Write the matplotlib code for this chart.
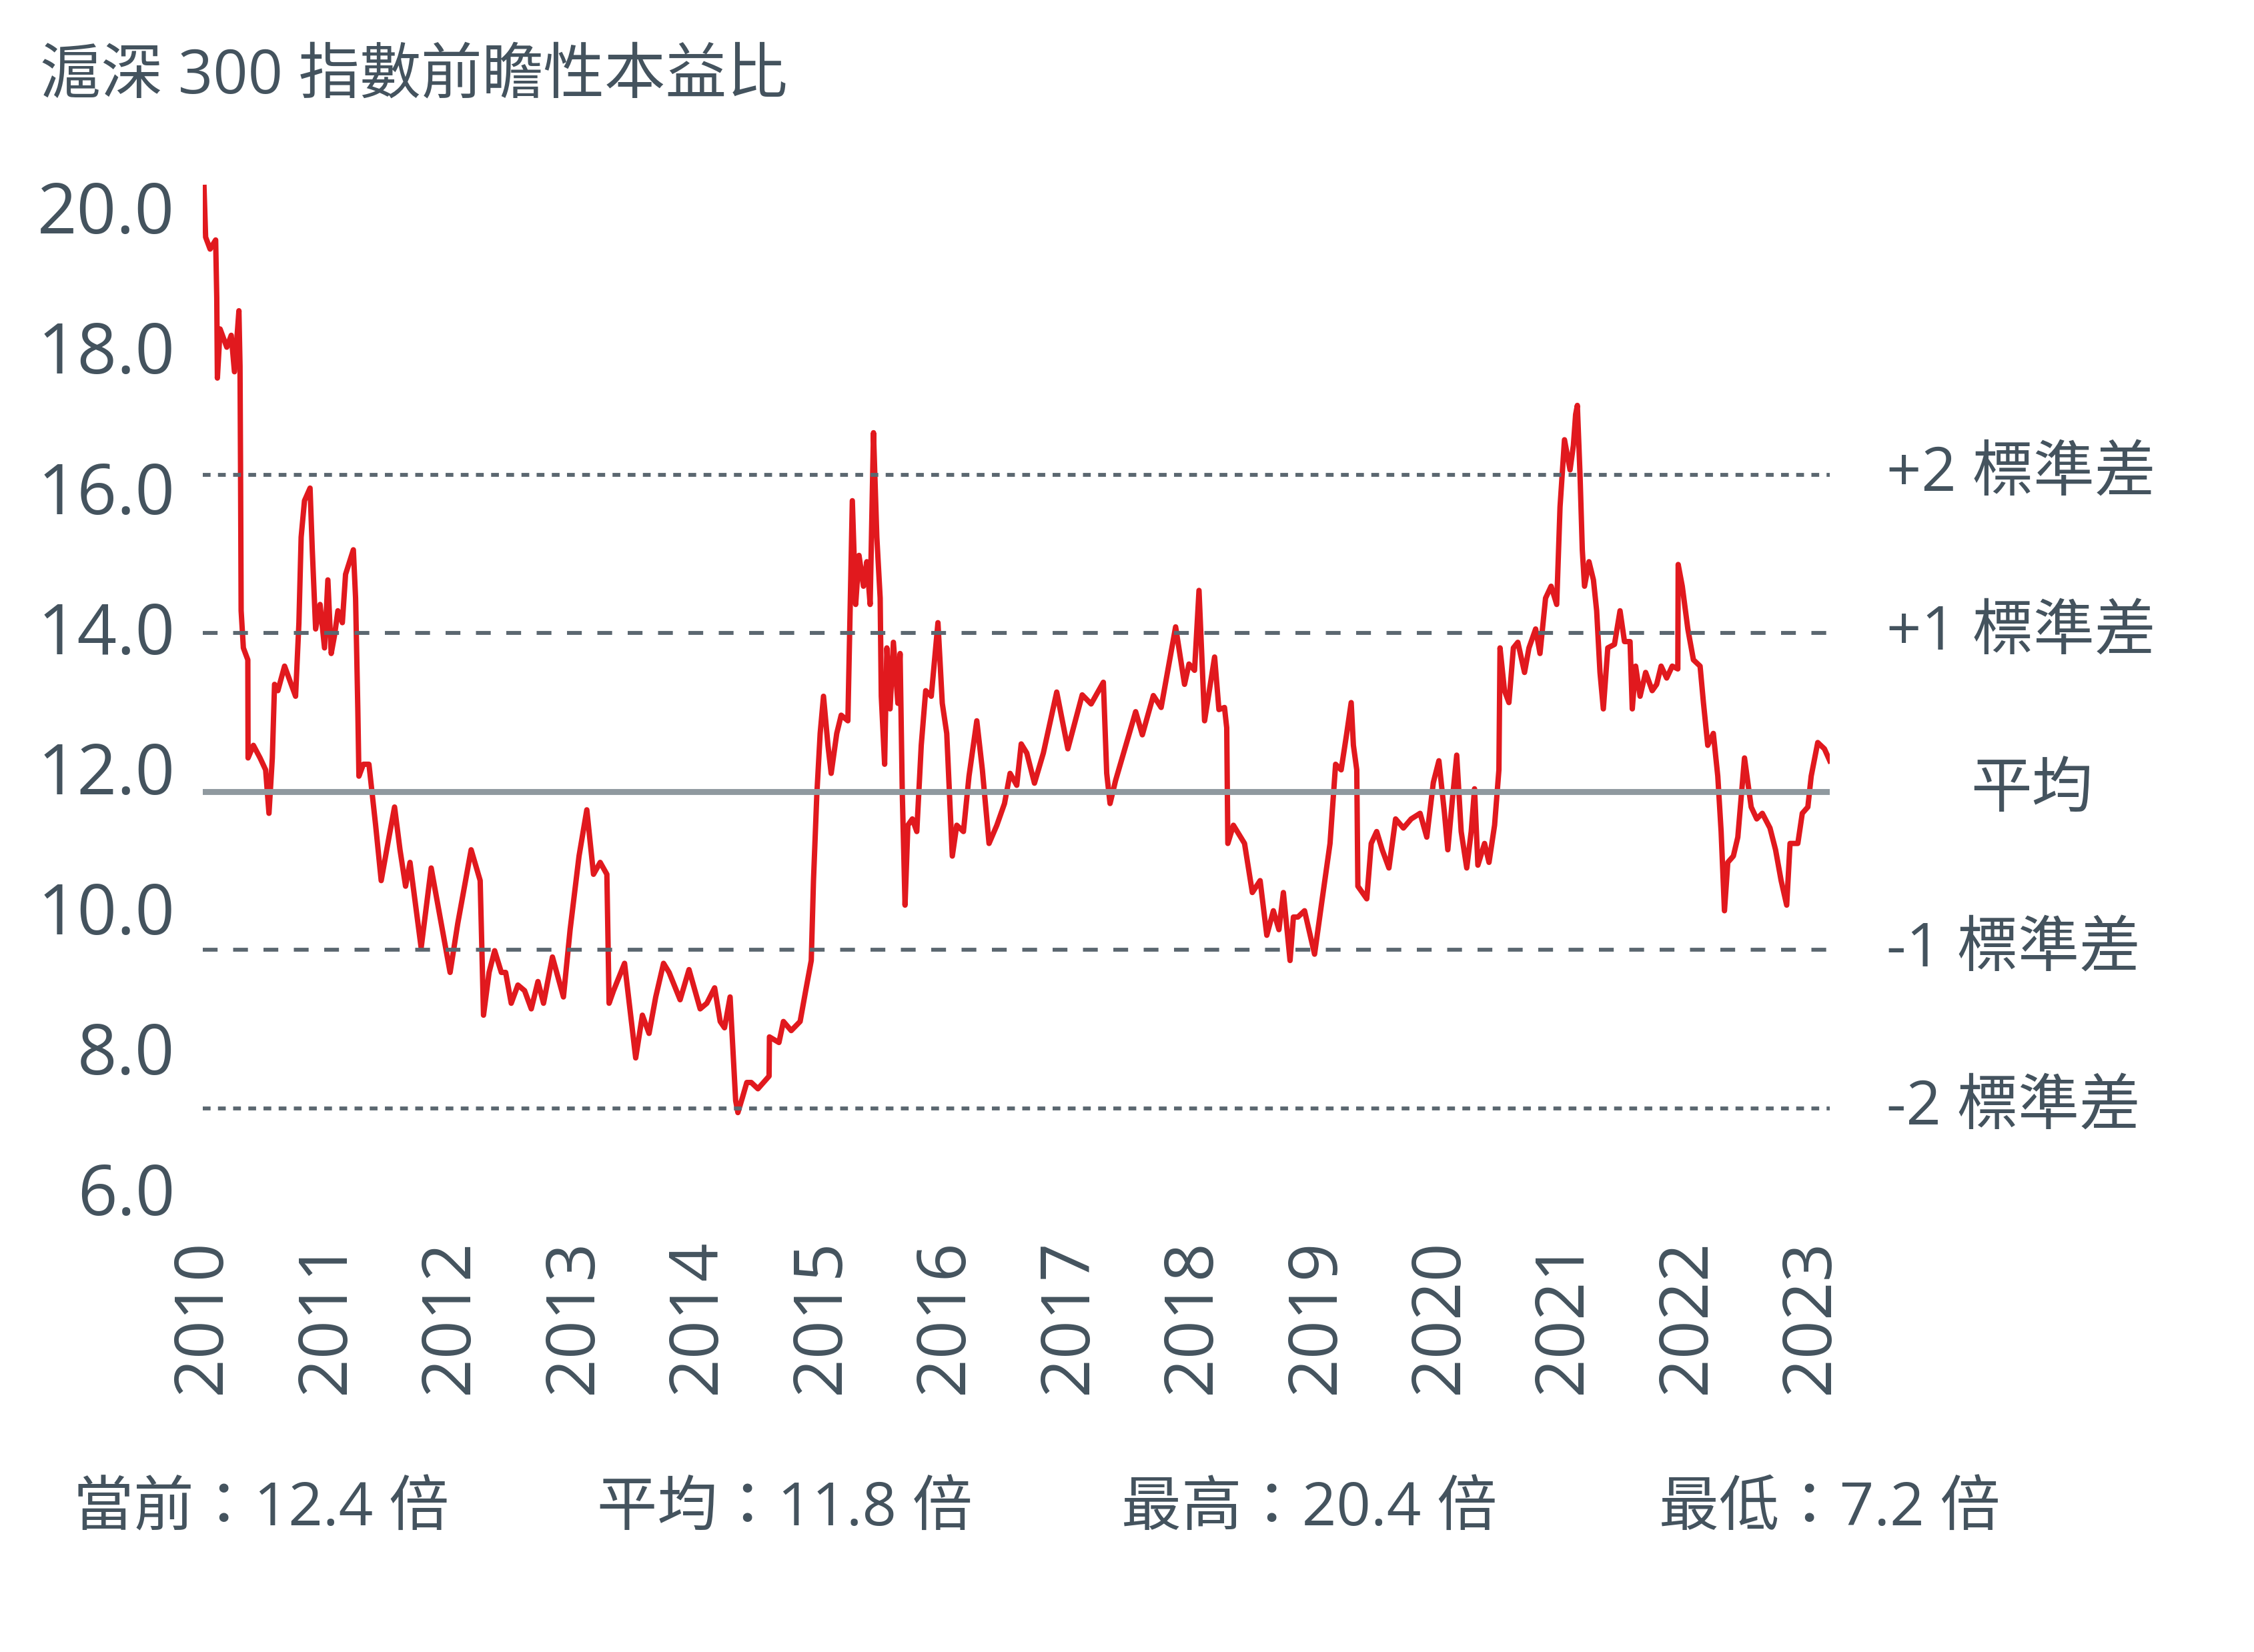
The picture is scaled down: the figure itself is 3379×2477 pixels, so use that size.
import matplotlib
matplotlib.use("Agg")
import matplotlib.pyplot as plt
import matplotlib.transforms as mtransforms

plt.rcParams['font.family'] = ['Open Sans', 'Noto Sans CJK TC', 'DejaVu Sans']

# 資料
title = "滬深 300 指數前瞻性本益比"

dates = [
    2010.010, 2010.023, 2010.059, 2010.104, 2010.113, 2010.118, 2010.140, 2010.194,
    2010.230, 2010.256, 2010.292, 2010.301, 2010.305, 2010.310, 2010.328, 2010.364,
    2010.366, 2010.409, 2010.463, 2010.508, 2010.535, 2010.562, 2010.580, 2010.607,
    2010.661, 2010.696, 2010.750, 2010.777, 2010.795, 2010.822, 2010.867, 2010.885,
    2010.912, 2010.948, 2010.984, 2011.011, 2011.038, 2011.065, 2011.092, 2011.128,
    2011.154, 2011.217, 2011.235, 2011.253, 2011.262, 2011.298, 2011.343, 2011.397,
    2011.442, 2011.505, 2011.550, 2011.594, 2011.639, 2011.675, 2011.765, 2011.846,
    2011.918, 2011.999, 2012.061, 2012.169,
    2012.242, 2012.269, 2012.314, 2012.359, 2012.413, 2012.448, 2012.493, 2012.547,
    2012.601, 2012.655, 2012.709, 2012.754, 2012.826, 2012.915, 2012.969, 2013.041,
    2013.104, 2013.158, 2013.212, 2013.266, 2013.284, 2013.320, 2013.409, 2013.499,
    2013.553, 2013.607, 2013.661, 2013.724, 2013.769, 2013.858, 2013.930, 2014.020,
    2014.074, 2014.137, 2014.182, 2014.217, 2014.262, 2014.307, 2014.325, 2014.361,
    2014.397,
    2014.433, 2014.487, 2014.577, 2014.580, 2014.657, 2014.693, 2014.756, 2014.828,
    2014.873, 2014.918, 2014.936, 2014.963, 2014.990, 2015.017, 2015.053, 2015.079,
    2015.124, 2015.160, 2015.214, 2015.232, 2015.250, 2015.277, 2015.304, 2015.340,
    2015.367, 2015.394, 2015.421, 2015.448, 2015.475, 2015.484, 2015.511, 2015.529,
    2015.555, 2015.582, 2015.618, 2015.636, 2015.654, 2015.676, 2015.699, 2015.735,
    2015.771, 2015.807, 2015.843, 2015.888, 2015.942, 2015.977, 2016.013, 2016.058,
    2016.094, 2016.148, 2016.193, 2016.256, 2016.301, 2016.355, 2016.418,
    2016.480, 2016.525, 2016.579, 2016.615, 2016.660, 2016.722, 2016.794, 2016.902,
    2016.992, 2017.108, 2017.180, 2017.279, 2017.306, 2017.333, 2017.378, 2017.540,
    2017.594, 2017.683, 2017.746, 2017.863, 2017.935, 2017.971, 2018.016, 2018.052,
    2018.097, 2018.178, 2018.213, 2018.258, 2018.276, 2018.285,
    2018.330, 2018.420, 2018.483, 2018.546, 2018.600, 2018.653, 2018.698, 2018.734,
    2018.788, 2018.815,
    2018.851, 2018.905, 2018.986, 2019.048, 2019.111, 2019.156, 2019.201, 2019.246,
    2019.282, 2019.300, 2019.327, 2019.336, 2019.408, 2019.444, 2019.488, 2019.533,
    2019.587, 2019.641, 2019.704, 2019.767, 2019.839, 2019.893, 2019.946, 2019.991,
    2020.036, 2020.063, 2020.099, 2020.135, 2020.171, 2020.216, 2020.252, 2020.279,
    2020.306, 2020.360, 2020.396, 2020.441, 2020.476, 2020.485, 2020.521, 2020.557,
    2020.593, 2020.629, 2020.683, 2020.719, 2020.773, 2020.808, 2020.853, 2020.898,
    2020.943, 2020.970, 2021.006,
    2021.051, 2021.078, 2021.096, 2021.110, 2021.132, 2021.150, 2021.168, 2021.204,
    2021.240, 2021.266, 2021.293, 2021.320, 2021.356, 2021.410, 2021.455, 2021.491,
    2021.536, 2021.554, 2021.581, 2021.617, 2021.662, 2021.715, 2021.751, 2021.787,
    2021.832, 2021.877, 2021.922, 2021.925, 2021.958, 2022.003, 2022.048, 2022.102,
    2022.129, 2022.164, 2022.209, 2022.245, 2022.272, 2022.299, 2022.326, 2022.371,
    2022.407, 2022.461, 2022.515, 2022.560, 2022.605, 2022.667, 2022.712, 2022.757,
    2022.802, 2022.829, 2022.892, 2022.928, 2022.973, 2023.000, 2023.053, 2023.107,
    2023.150,
]

pe = [
    20.40, 19.69, 19.52, 19.65, 18.82, 17.68, 18.38, 18.12,
    18.29, 17.77, 18.64, 17.85, 16.46, 14.36, 13.83, 13.66,
    12.26, 12.44, 12.26, 12.09, 11.47, 12.26, 13.31, 13.22,
    13.57, 13.40, 13.14, 14.19, 15.41, 15.93, 16.11, 15.23,
    14.10, 14.45, 13.83, 14.80, 13.75, 14.01, 14.36, 14.19,
    14.88, 15.23, 14.54, 12.96, 12.00, 12.17, 12.17, 11.30,
    10.51, 11.13, 11.56, 10.95, 10.43, 10.77, 9.55, 10.69,
    9.99, 9.20, 9.90, 10.95,
    10.51, 8.59, 9.20, 9.51, 9.20, 9.20, 8.76, 9.02,
    8.94, 8.68, 9.07, 8.76, 9.42, 8.85, 9.81, 10.86,
    11.52, 10.60, 10.77, 10.60, 8.76, 8.94, 9.33, 7.98,
    8.59, 8.33, 8.85, 9.33, 9.20, 8.81, 9.24, 8.68,
    8.76, 8.98, 8.50, 8.41, 8.85, 7.37, 7.20, 7.41,
    7.63,
    7.63, 7.54, 7.72, 8.28, 8.20, 8.50, 8.37, 8.50,
    8.94, 9.37, 10.51, 11.74, 12.61, 13.14, 12.44, 12.04,
    12.61, 12.87, 12.79, 14.36, 15.93, 14.45, 15.15, 14.71,
    15.06, 14.45, 16.90, 15.41, 14.54, 13.14, 12.17, 13.83,
    12.96, 13.91, 13.04, 13.75, 11.74, 10.16, 11.30, 11.39,
    11.21, 12.44, 13.22, 13.14, 14.19, 13.04, 12.61, 10.86,
    11.30, 11.21, 12.00, 12.79, 12.09, 11.04, 11.30,
    11.61, 12.04, 11.87, 12.46, 12.33, 11.90, 12.33, 13.20,
    12.39, 13.16, 13.03, 13.34, 12.04, 11.61, 11.94, 12.92,
    12.59, 13.15, 12.98, 14.13, 13.31, 13.60, 13.51, 14.65,
    12.79, 13.70, 12.95, 12.98, 12.69, 11.04,
    11.30, 11.04, 10.34, 10.51, 9.73, 10.08, 9.81, 10.34,
    9.37, 9.99,
    9.99, 10.08, 9.46, 10.25, 11.04, 12.17, 12.09, 12.61,
    13.05, 12.44, 12.09, 10.43, 10.25, 11.04, 11.21, 10.95,
    10.69, 11.39, 11.26, 11.39, 11.47, 11.13, 11.91, 12.22,
    11.47, 10.95, 11.65, 12.30, 11.21, 10.69, 11.21, 11.82,
    10.73, 11.04, 10.77, 11.30, 12.09, 13.83, 13.22, 13.05,
    13.83, 13.91, 13.48, 13.83, 14.10, 13.75, 14.54, 14.71,
    14.45, 15.84, 16.80,
    16.37, 16.72, 17.16, 17.29, 16.28, 15.23, 14.71, 15.06,
    14.80, 14.36, 13.48, 12.96, 13.83, 13.88, 14.36, 13.92,
    13.92, 12.96, 13.57, 13.14, 13.48, 13.22, 13.31, 13.57,
    13.40, 13.57, 13.53, 15.02, 14.71, 14.10, 13.66, 13.57,
    13.05, 12.44, 12.61, 12.00, 11.21, 10.08, 10.77, 10.86,
    11.13, 12.26, 11.56, 11.39, 11.47, 11.26, 10.95, 10.51,
    10.16, 11.04, 11.04, 11.47, 11.56, 12.00, 12.48, 12.39,
    12.22,
]

mean_pe = 11.78
std_pe = 2.26
band_k = [2, 1, 0, -1, -2]
band_labels = ["+2 標準差", "+1 標準差", "平均", "-1 標準差", "-2 標準差"]
years = list(range(2010, 2024))
yticks = [6, 8, 10, 12, 14, 16, 18, 20]
stats = ["當前：12.4 倍", "平均：11.8 倍", "最高：20.4 倍", "最低：7.2 倍"]
stats_x = [110, 895, 1681, 2487]

W, H = 3379, 2477
text_color = "#44535e"
ref_color = "#5b6770"

fig = plt.figure(figsize=(W / 200, H / 200), dpi=200)
ax = fig.add_axes([304 / W, 0.2756, (2743 - 304) / W, 0.6152])

ax.plot(dates, pe, color="#e1191e", lw=2.9, zorder=2)

for k in band_k:
    y = mean_pe + k * std_pe
    if k == 0:
        ax.axhline(y, color="#8f999f", lw=3.2, zorder=3)
    elif abs(k) == 1:
        ax.axhline(y, color=ref_color, lw=2.1, dashes=(3.8, 4.0), zorder=3)
    else:
        ax.axhline(y, color=ref_color, lw=2.1, dashes=(2.0, 1.9), zorder=3)

ax.set_xlim(2010.0, 2023.15)
ax.set_ylim(6, 20.5)
for s in ax.spines.values():
    s.set_visible(False)

ax.set_xticks(years)
ax.set_xticklabels([str(y) for y in years], rotation=90, fontsize=36.5, color=text_color)
ax.set_yticks(yticks)
ax.set_yticklabels([f"{v:.1f}" for v in yticks], fontsize=37.5, color=text_color)
ax.tick_params(axis="both", length=0)
ax.tick_params(axis="x", pad=23)
ax.tick_params(axis="y", pad=15)

shift = mtransforms.ScaledTranslation(0, 4.5 / 72, fig.dpi_scale_trans)
for lab in ax.get_yticklabels():
    lab.set_transform(lab.get_transform() + shift)

# 右側標準差標籤
tr = mtransforms.blended_transform_factory(fig.transFigure, ax.transData)
for k, lab in zip(band_k, band_labels):
    y = mean_pe + k * std_pe
    if k == 0:
        ax.text(3046 / W, y, lab, transform=tr, ha="center", va="center",
                fontsize=33, color=text_color)
    else:
        ax.text(2828 / W, y, lab, transform=tr, ha="left", va="center",
                fontsize=33, color=text_color)

fig.text(60 / W, 1 - 116 / H, title, ha="left", va="center", fontsize=33, color=text_color)

for x, s in zip(stats_x, stats):
    fig.text(x / W, 1 - 2264 / H, s, ha="left", va="center", fontsize=32.5, color=text_color)

fig.savefig("out.png", dpi=200, facecolor="white")
